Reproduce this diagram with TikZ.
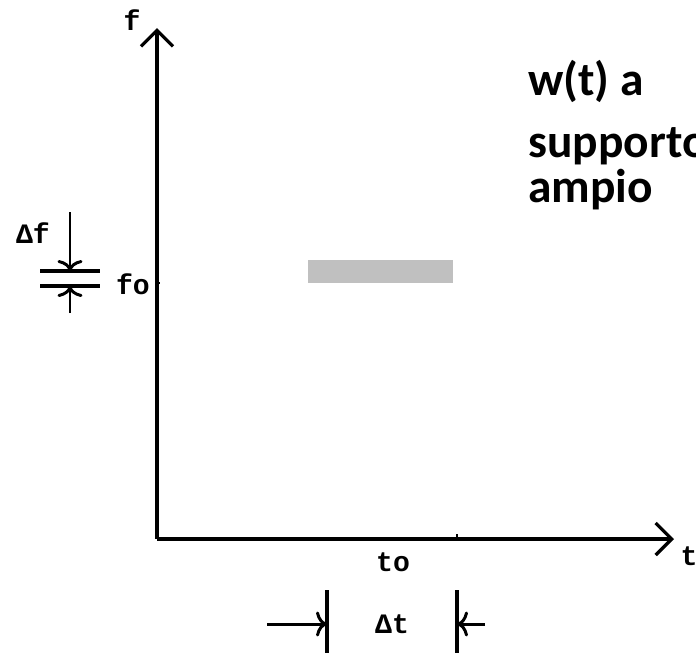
\documentclass[tikz,border=0pt]{standalone}
\usepackage{fontspec}
\setmainfont{Carlito}
\newfontfamily\labelfont{Liberation Mono}
\usetikzlibrary{arrows.meta, positioning}

\begin{document}
\begin{tikzpicture}[x=0.02cm, y=-0.02cm,
    axis/.style={line width=1.9pt, -{Straight Barb[length=3.2mm, width=6.4mm, line width=1.9pt]}},
    dimline/.style={line width=2pt},
    dimarr/.style={line width=1.7pt, -{Computer Modern Rightarrow[length=2.2mm, width=5mm, line width=1.7pt]}},
    lbl/.style={font=\labelfont\bfseries\fontsize{16}{19}\selectfont, inner sep=0pt},
    caption/.style={font=\bfseries\fontsize{27}{32}\selectfont, anchor=base west, inner sep=0pt}]
    \useasboundingbox (0,0) rectangle (696,654);
    % Axes
    \coordinate (orig) at (157,539);
    \coordinate (ftop) at (157,28);
    \coordinate (tend) at (674,539);
    \draw[axis] (orig) -- (ftop);
    \draw[axis] (orig) -- (tend);
    \node[lbl] (flab) at (132,20) {f};
    \node[lbl] (tlab) at (689,556) {t};
    % Tick marks
    \coordinate (tick) at (457,539);
    \draw[line width=0.8pt] (tick) -- ++(0,-5);
    \draw[line width=0.8pt] (157,283) -- ++(3,0);
    \node[lbl] (to) at (393,562) {to};
    \node[lbl] (fo) at (133,284) {fo};
    % Window on the plane
    \fill[fill={rgb,255:red,192;green,192;blue,192}] (308,260) rectangle (453,283) node[pos=0.5] (win) {};
    % Delta t below the time axis
    \coordinate (bl1) at (327,590); \coordinate (bl2) at (327,653);
    \coordinate (br1) at (457,590); \coordinate (br2) at (457,653);
    \draw[dimline] (bl1) -- (bl2);
    \draw[dimline] (br1) -- (br2);
    \coordinate (al) at (267,624); \coordinate (ar) at (485,624);
    \draw[dimarr] (al) -- (bl1 |- al);
    \draw[dimarr] (ar) -- (br1 |- ar);
    \node[lbl] (dt) at (392,624) {Δt};
    % Delta f left of the frequency axis
    \coordinate (ft1) at (40,271); \coordinate (ft2) at (100,271);
    \coordinate (fb1) at (40,286); \coordinate (fb2) at (100,286);
    \draw[dimline] (ft1) -- (ft2);
    \draw[dimline] (fb1) -- (fb2);
    \coordinate (aup) at (70,212); \coordinate (adn) at (70,313);
    \draw[dimarr] (aup) -- (aup |- ft1);
    \draw[dimarr] (adn) -- (adn |- fb1);
    \node[lbl] (df) at (33,233) {Δf};
    % Caption
    \node[caption] (cap1) at (528,95) {w(t) a};
    \node[caption] (cap2) at (528,157) {supporto};
    \node[caption] (cap3) at (528,202) {ampio};
\end{tikzpicture}
\end{document}
